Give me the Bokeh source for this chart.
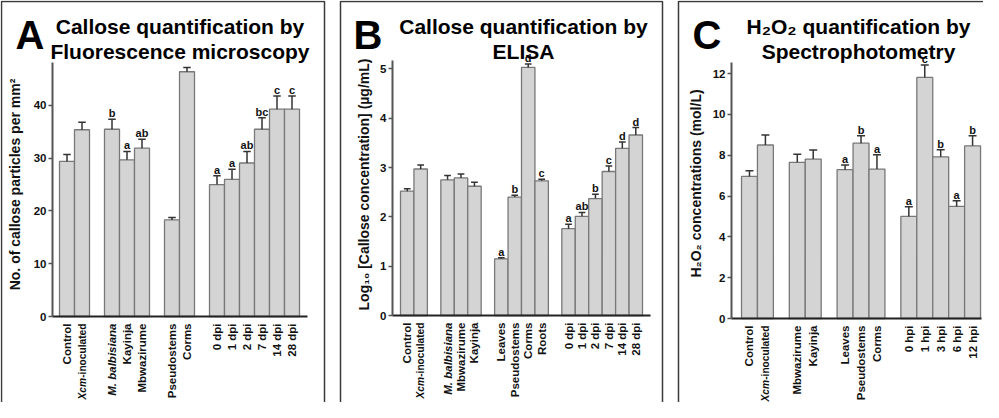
import math
from bokeh.plotting import figure
from bokeh.models import ColumnDataSource, Label, BoxAnnotation, FixedTicker, Range1d
from bokeh.core.properties import value
from bokeh.layouts import row
from bokeh.embed import file_html
from bokeh.resources import INLINE

FONT = "Liberation Sans"

# ---------------- data ----------------
A_groups = [["Control", "Xcm-inoculated"],
            ["M. balbisiana", "Kayinja", "Mbwazirume"],
            ["Pseudostems", "Corms"],
            ["0 dpi", "1 dpi", "2 dpi", "7 dpi", "14 dpi", "28 dpi"]]
A_values = [29.4, 35.4, 35.5, 29.7, 31.9, 18.3, 46.4, 25.0, 26.0, 29.1, 35.5, 39.3, 39.3]
A_errors = [1.3, 1.4, 1.9, 1.6, 1.7, 0.45, 0.8, 1.7, 1.9, 2.2, 2.2, 2.5, 2.5]
A_letters = ["", "", "b", "a", "ab", "", "", "a", "a", "ab", "bc", "c", "c"]
A_yticks = [0, 10, 20, 30, 40]

B_groups = [["Control", "Xcm-inoculated"],
            ["M. balbisiana", "Mbwazirume", "Kayinja"],
            ["Leaves", "Pseudostems", "Corms", "Roots"],
            ["0 dpi", "1 dpi", "2 dpi", "7 dpi", "14 dpi", "28 dpi"]]
B_values = [2.52, 2.97, 2.75, 2.79, 2.62, 1.15, 2.40, 5.03, 2.73, 1.76, 2.01, 2.37, 2.92, 3.39, 3.66]
B_errors = [0.05, 0.08, 0.09, 0.08, 0.08, 0.02, 0.04, 0.07, 0.03, 0.09, 0.08, 0.09, 0.11, 0.13, 0.15]
B_letters = ["", "", "", "", "", "a", "b", "d", "c", "a", "ab", "b", "c", "d", "d"]
B_yticks = [0, 1, 2, 3, 4, 5]

C_groups = [["Control", "Xcm-inoculated"],
            ["Mbwazirume", "Kayinja"],
            ["Leaves", "Pseudostems", "Corms"],
            ["0 hpi", "1 hpi", "3 hpi", "6 hpi", "12 hpi"]]
C_values = [6.96, 8.50, 7.65, 7.81, 7.29, 8.59, 7.32, 5.00, 11.81, 7.92, 5.49, 8.46]
C_errors = [0.28, 0.49, 0.39, 0.44, 0.23, 0.36, 0.70, 0.47, 0.61, 0.35, 0.28, 0.49]
C_letters = ["", "", "", "", "a", "b", "a", "a", "c", "b", "a", "b"]
C_yticks = [0, 2, 4, 6, 8, 10, 12]

A_title = ["Callose quantification by", "Fluorescence microscopy"]
B_title = ["Callose quantification by", "ELISA"]
C_title = ["H\u2082O\u2082 quantification by", "Spectrophotometry"]
A_ylabel = "No. of callose particles per mm\u00b2"
B_ylabel = "Log\u2081\u2080 [Callose concentration] (\u00b5g/mL)"
C_ylabel = "H\u2082O\u2082 concentrations (mol/L)"

TICK_FS = "11.5px"
XCM_FS = 10.2          # px, slightly smaller so the long label fits the page
STANDOFF = 7


def positions(groups):
    pos, cur = [], 0
    for g in groups:
        for _ in g:
            pos.append(cur)
            cur += 1
        cur += 1
    return pos


def panel(letter, title, ylabel, groups, vals, errs, sig, yticks, lay):
    cats = [c for g in groups for c in g]
    pos = positions(groups)
    cx0, cx1 = lay["canvas"]
    fl, fr, ft, fb = lay["frame"]
    xs, xe, ytop = lay["xs"], lay["xe"], lay["ytop"]

    def px2x(px):
        return xs + (px - fl) * (xe - xs) / (fr - fl)

    def py2y(py):
        return (fb - py) * ytop / (fb - ft)

    p = figure(width=cx1 - cx0, height=402,
               x_range=Range1d(px2x(cx0), px2x(cx1)), y_range=Range1d(py2y(410), py2y(8)),
               output_backend="svg", toolbar_location=None, title=None,
               min_border_left=0, min_border_right=0, min_border_top=0, min_border_bottom=0)
    p.outline_line_color = None
    p.xgrid.visible = False
    p.ygrid.visible = False
    p.background_fill_color = "white"
    p.border_fill_color = "white"

    caps = [v + e for v, e in zip(vals, errs)]
    src = ColumnDataSource(dict(x=pos, top=vals, cap=caps,
                                cl=[x - 0.25 for x in pos], cr=[x + 0.25 for x in pos],
                                sig=sig))
    p.vbar(x="x", top="top", bottom=0, width=1.0, source=src,
           fill_color="#d4d4d4", line_color="#787878", line_width=1.3)
    p.segment(x0="x", y0="top", x1="x", y1="cap", source=src, line_color="#333333", line_width=1.5)
    p.segment(x0="cl", y0="cap", x1="cr", y1="cap", source=src, line_color="#333333", line_width=1.5)
    p.text(x="x", y="cap", text="sig", source=src, text_align="center", text_baseline="bottom",
           text_font=value(FONT), text_font_style="bold", text_font_size="11px", text_color="#111111")

    # y axis (real axis, pinned to the plot area's left edge)
    ya = p.yaxis[0]
    ya.fixed_location = xs
    ya.bounds = (0, ytop)
    ya.ticker = FixedTicker(ticks=yticks)
    ya.axis_line_color = "#555555"
    ya.axis_line_width = 2
    ya.major_tick_line_color = "#555555"
    ya.major_tick_line_width = 1.5
    ya.major_tick_out = 4
    ya.major_tick_in = 0
    ya.minor_tick_out = 0
    ya.minor_tick_in = 0
    ya.major_label_standoff = 2
    ya.major_label_text_font = FONT
    ya.major_label_text_font_style = "bold"
    ya.major_label_text_font_size = TICK_FS
    ya.major_label_text_color = "#111111"

    # x axis pinned at y = 0
    xa = p.xaxis[0]
    xa.fixed_location = 0
    xa.bounds = (xs, xe)
    xa.ticker = FixedTicker(ticks=pos)
    xa.axis_line_color = "#222222"
    xa.axis_line_width = 2
    xa.major_tick_out = 0
    xa.major_tick_in = 0
    xa.minor_tick_out = 0
    xa.minor_tick_in = 0
    xa.major_tick_line_color = None
    xa.major_label_orientation = math.pi / 2
    xa.major_label_standoff = STANDOFF
    xa.major_label_text_font = FONT
    xa.major_label_text_font_style = "bold"
    xa.major_label_text_font_size = TICK_FS
    xa.major_label_text_color = "#111111"
    overrides = {}
    for c, x in zip(cats, pos):
        overrides[x] = "" if c in ("M. balbisiana", "Xcm-inoculated") else c
    xa.major_label_overrides = overrides

    ylab = py2y(fb + STANDOFF)
    for c, x in zip(cats, pos):
        if c == "M. balbisiana":
            p.add_layout(Label(x=x, y=ylab, text=c, angle=math.pi / 2, text_align="right",
                               text_baseline="middle", text_font=FONT, text_font_style="bold italic",
                               text_font_size=TICK_FS, text_color="#111111"))
        elif c == "Xcm-inoculated":
            p.add_layout(Label(x=x, y=ylab, text="-inoculated", angle=math.pi / 2, text_align="right",
                               text_baseline="middle", text_font=FONT, text_font_style="bold",
                               text_font_size=f"{XCM_FS}px", text_color="#111111"))
            p.add_layout(Label(x=x, y=py2y(fb + STANDOFF + 5.334 * XCM_FS), text="Xcm",
                               angle=math.pi / 2, text_align="right", text_baseline="middle",
                               text_font=FONT, text_font_style="bold italic",
                               text_font_size=f"{XCM_FS}px", text_color="#111111"))

    # y axis title
    p.add_layout(Label(x=px2x(lay["ylab_x"]), y=py2y(lay["ylab_y"]), text=ylabel, angle=math.pi / 2,
                       text_align="center", text_baseline="middle", text_font=FONT,
                       text_font_style="bold", text_font_size="14px", text_color="#111111"))

    # panel box
    bl, br, bt = lay["box"]
    p.add_layout(BoxAnnotation(left=px2x(bl), right=px2x(br), top=py2y(bt), bottom=py2y(460),
                               fill_alpha=0, fill_color=None, line_color="#3a3a3a", line_width=1.5,
                               line_alpha=1))

    # big letter and title
    p.add_layout(Label(x=px2x(lay["letter_x"]), y=py2y(42), text=letter, text_align="left",
                       text_baseline="alphabetic", text_font=FONT, text_font_style="bold",
                       text_font_size="40px", text_color="#000000"))
    tx = px2x(lay["title_cx"])
    for line, base in zip(title, (34, 59)):
        p.add_layout(Label(x=tx, y=py2y(base), text=line, text_align="center",
                           text_baseline="alphabetic", text_font=FONT, text_font_style="bold",
                           text_font_size="21px", text_color="#000000"))
    return p


layA = dict(canvas=(8, 340), frame=(60, 315, 70, 324), xs=-0.967, xe=16.033, ytop=48.15,
            ylab_x=22, ylab_y=192, box=(9, 332, 9), letter_x=23, title_cx=187.5)
layB = dict(canvas=(340, 678), frame=(400, 658, 68, 323), xs=-1.095, xe=18.095, ytop=5.17,
            ylab_x=371, ylab_y=192, box=(348, 670, 9), letter_x=361, title_cx=531)
layC = dict(canvas=(678, 991), frame=(739, 989, 70, 326), xs=-1.128, xe=14.56, ytop=12.54,
            ylab_x=703, ylab_y=191, box=(686, 1020, 9), letter_x=700, title_cx=866)

pA = panel("A", A_title, A_ylabel, A_groups, A_values, A_errors, A_letters, A_yticks, layA)
pB = panel("B", B_title, B_ylabel, B_groups, B_values, B_errors, B_letters, B_yticks, layB)
pC = panel("C", C_title, C_ylabel, C_groups, C_values, C_errors, C_letters, C_yticks, layC)

layout = row(pA, pB, pC)
open("out.html", "w").write(file_html(layout, INLINE))
